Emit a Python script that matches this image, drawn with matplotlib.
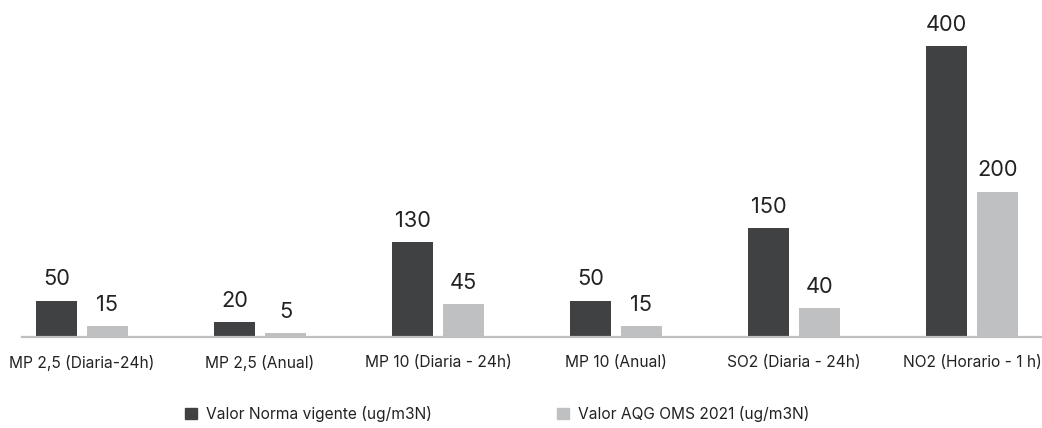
import matplotlib
matplotlib.use("Agg")
import matplotlib.pyplot as plt
from matplotlib.patches import Patch
import numpy as np

categories = ["MP 2,5 (Diaria-24h)", "MP 2,5 (Anual)", "MP 10 (Diaria - 24h)",
              "MP 10 (Anual)", "SO2 (Diaria - 24h)", "NO2 (Horario - 1 h)"]
norma = [50, 20, 130, 50, 150, 400]
oms = [15, 5, 45, 15, 40, 200]
series_names = ["Valor Norma vigente (ug/m3N)", "Valor AQG OMS 2021 (ug/m3N)"]

dark = "#404143"
light = "#BFC0C2"

plt.rcParams['font.family'] = ['Inter', 'DejaVu Sans']

W, H = 1042, 428
fig = plt.figure(figsize=(W/100, H/100), dpi=100)
ax = fig.add_axes([22/W, (H-337)/H, 1020/W, (337-46)/H])

x = np.arange(len(categories))
bw = 0.23
off = 0.143
b1 = ax.bar(x - off, norma, bw, color=dark)
b2 = ax.bar(x + off, oms, bw, color=light)

for bars, vals in ((b1, norma), (b2, oms)):
    for r, v in zip(bars, vals):
        ax.annotate(str(v), (r.get_x() + r.get_width()/2, r.get_height()),
                    xytext=(0, 11), textcoords="offset points",
                    ha="center", va="baseline", fontsize=15.7, color="#222222")

ax.set_xlim(-0.337, 5.393)
ax.set_ylim(0, 400)
for s in ["top", "right", "left"]:
    ax.spines[s].set_visible(False)
ax.spines["bottom"].set_color("#BFBFBF")
ax.spines["bottom"].set_linewidth(1.6)
ax.set_yticks([])
ax.set_xticks(x)
ax.set_xticklabels(categories, fontsize=11.2, color="#222222")
ax.tick_params(axis="x", length=0, pad=13)

h1 = Patch(color=dark)
h2 = Patch(color=light)
for h, name, xp in ((h1, series_names[0], 185), (h2, series_names[1], 557)):
    fig.legend([h], [name], loc="center left", bbox_to_anchor=(xp/W, (H-414)/H),
               frameon=False, fontsize=11.2, handlelength=0.75, handleheight=0.75,
               handletextpad=0.6, borderpad=0, borderaxespad=0,
               labelcolor="#222222")

fig.savefig("out.png", dpi=100)
